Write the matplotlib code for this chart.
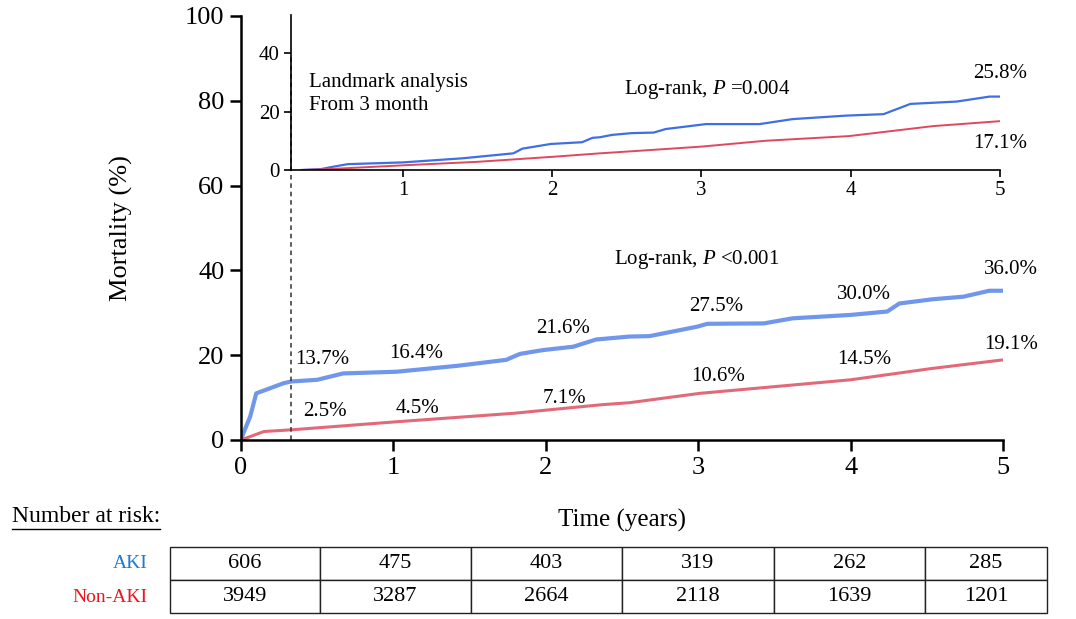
import matplotlib
matplotlib.use("Agg")
import matplotlib.pyplot as plt
from matplotlib.lines import Line2D

plt.rcParams['font.family'] = ['Liberation Serif', 'DejaVu Serif']
plt.rcParams['mathtext.fontset'] = 'custom'
plt.rcParams['mathtext.rm'] = 'Liberation Serif'
plt.rcParams['mathtext.it'] = 'Liberation Serif:italic'

# ---- main curves (cumulative mortality, %) ----
main_aki_t = [0, 0.02, 0.06, 0.10, 0.19, 0.28, 0.33, 0.50, 0.67, 1.02, 1.42, 1.74, 1.83, 1.98,
              2.18, 2.33, 2.55, 2.68, 2.99, 3.06, 3.43, 3.62, 4.0, 4.24, 4.32, 4.54, 4.74, 4.91, 5.0]
main_aki_y = [0, 2.0, 5.5, 11.0, 12.2, 13.4, 13.8, 14.2, 15.7, 16.1, 17.5, 18.9, 20.3, 21.2,
              22.0, 23.7, 24.4, 24.5, 26.7, 27.4, 27.5, 28.7, 29.5, 30.3, 32.2, 33.2, 33.8, 35.2, 35.2]
main_non_t = [0, 0.15, 0.33, 1.02, 1.79, 2.36, 2.55, 3.01, 4.0, 4.54, 5.0]
main_non_y = [0, 2.0, 2.4, 4.3, 6.3, 8.3, 8.8, 11.0, 14.2, 16.9, 18.9]

# ---- landmark inset curves ----
ins_aki_t = [0.32, 0.45, 0.53, 0.63, 1.0, 1.4, 1.74, 1.8, 1.99, 2.2, 2.27, 2.32, 2.4, 2.53, 2.68,
             2.76, 3.03, 3.39, 3.61, 3.97, 4.22, 4.4, 4.71, 4.93, 5.0]
ins_aki_y = [0, 0.3, 1.1, 2.0, 2.6, 4.0, 5.7, 7.3, 8.9, 9.5, 11.0, 11.2, 12.0, 12.6, 12.8,
             14.0, 15.7, 15.7, 17.4, 18.6, 19.1, 22.6, 23.4, 25.1, 25.1]
ins_non_t = [0.32, 0.5, 1.0, 1.5, 2.0, 2.32, 2.65, 3.0, 3.43, 3.99, 4.55, 5.0]
ins_non_y = [0, 0.3, 1.6, 2.8, 4.5, 5.7, 6.8, 8.0, 10.0, 11.6, 15.0, 16.7]

# ---- annotations ----
aki_labels = ["13.7%", "16.4%", "21.6%", "27.5%", "30.0%", "36.0%"]
aki_label_x = [0.53, 1.15, 2.11, 3.12, 4.09, 5.05]
aki_label_y = [18.9, 20.5, 26.4, 31.4, 34.2, 40.1]
non_labels = ["2.5%", "4.5%", "7.1%", "10.6%", "14.5%", "19.1%"]
non_label_x = [0.55, 1.16, 2.12, 3.13, 4.09, 5.05]
non_label_y = [6.8, 7.5, 9.9, 14.9, 18.9, 22.6]

# ---- number at risk ----
risk_groups = ["AKI", "Non-AKI"]
risk_aki = [606, 475, 403, 319, 262, 285]
risk_non = [3949, 3287, 2664, 2118, 1639, 1201]

W, H = 1076, 619
fig = plt.figure(figsize=(W / 100, H / 100), dpi=100)

def fx(px):
    return px / W

def fy(py):
    return 1 - py / H

blue_main = '#7097ec'
red_main = '#e26a78'
blue_ins = '#3f6fe6'
red_ins = '#e0485e'

# main axes
ax = fig.add_axes([fx(241), fy(440), fx(1003) - fx(241), fy(16) - fy(440)])
ax.plot(main_aki_t, main_aki_y, color=blue_main, lw=3.0, solid_capstyle='butt')
ax.plot(main_non_t, main_non_y, color=red_main, lw=2.2, solid_capstyle='butt')
ax.set_xlim(0, 5)
ax.set_ylim(0, 100)
ax.set_xticks(range(6))
ax.set_yticks(range(0, 101, 20))
for s in ['top', 'right']:
    ax.spines[s].set_visible(False)
for s in ['left', 'bottom']:
    ax.spines[s].set_linewidth(1.8)
ax.tick_params(direction='out', length=8, width=1.8, labelsize=19, pad=4)
ax.set_ylabel("Mortality (%)", fontsize=19, labelpad=37)
ax.set_xlabel("Time (years)", fontsize=18, labelpad=22)
ax.plot([0.33, 0.33], [0, 91], ls=(0, (3, 2.5)), color='#333333', lw=1.1, clip_on=False)

for t, xx, yy in zip(aki_labels, aki_label_x, aki_label_y):
    ax.text(xx, yy, t, fontsize=15, ha='center', va='center')
for t, xx, yy in zip(non_labels, non_label_x, non_label_y):
    ax.text(xx, yy, t, fontsize=15, ha='center', va='center')
ax.text(2.45, 42.5, "Log-rank, $P$ <0.001", fontsize=15, ha='left', va='center')

# inset axes
axi = fig.add_axes([fx(291), fy(170), fx(1000) - fx(291), fy(15) - fy(170)])
axi.patch.set_alpha(0)
axi.plot(ins_aki_t, ins_aki_y, color=blue_ins, lw=1.6)
axi.plot(ins_non_t, ins_non_y, color=red_ins, lw=1.4)
axi.set_xlim(0.25, 5)
axi.set_ylim(0, 53)
axi.set_xticks([1, 2, 3, 4, 5])
axi.set_yticks([0, 20, 40])
for s in ['top', 'right']:
    axi.spines[s].set_visible(False)
for s in ['left', 'bottom']:
    axi.spines[s].set_linewidth(1.2)
axi.tick_params(direction='out', length=5, width=1.2, labelsize=15, pad=3)
axi.text(0.37, 26.0, "Landmark analysis\nFrom 3 month", fontsize=15, ha='left', va='center',
         linespacing=1.3)
axi.text(2.48, 27.5, "Log-rank, $P$ =0.004", fontsize=15, ha='left', va='center')
axi.text(5.0, 33.0, "25.8%", fontsize=15, ha='center', va='center')
axi.text(5.0, 9.0, "17.1%", fontsize=15, ha='center', va='center')

# number at risk
fig.text(fx(12), fy(517), "Number at risk:", fontsize=17, ha='left', va='center')
fig.add_artist(Line2D([fx(12), fx(160)], [fy(529), fy(529)], color='black', lw=1.0))

col_edges = [170, 320, 471, 622, 774, 925, 1047]
tab_left, tab_right, tab_top, tab_bot = 170, 1047, 547, 613
axt = fig.add_axes([fx(tab_left), fy(tab_bot), fx(tab_right) - fx(tab_left), fy(tab_top) - fy(tab_bot)])
widths = [(col_edges[i + 1] - col_edges[i]) / (tab_right - tab_left) for i in range(6)]
tbl = axt.table(cellText=[[str(v) for v in risk_aki], [str(v) for v in risk_non]],
                colWidths=widths, cellLoc='center', bbox=[0, 0, 1, 1])
tbl.auto_set_font_size(False)
for (r, c), cell in tbl.get_celld().items():
    cell.set_linewidth(1.0)
    cell.set_edgecolor('#222222')
    cell.get_text().set_fontsize(16)
axt.axis('off')

fig.text(fx(148), fy(563), risk_groups[0], fontsize=14, ha='right', va='center', color='#1f78d1')
fig.text(fx(148), fy(598), risk_groups[1], fontsize=14, ha='right', va='center', color='#f0141e')

fig.savefig("out.png", dpi=100)
